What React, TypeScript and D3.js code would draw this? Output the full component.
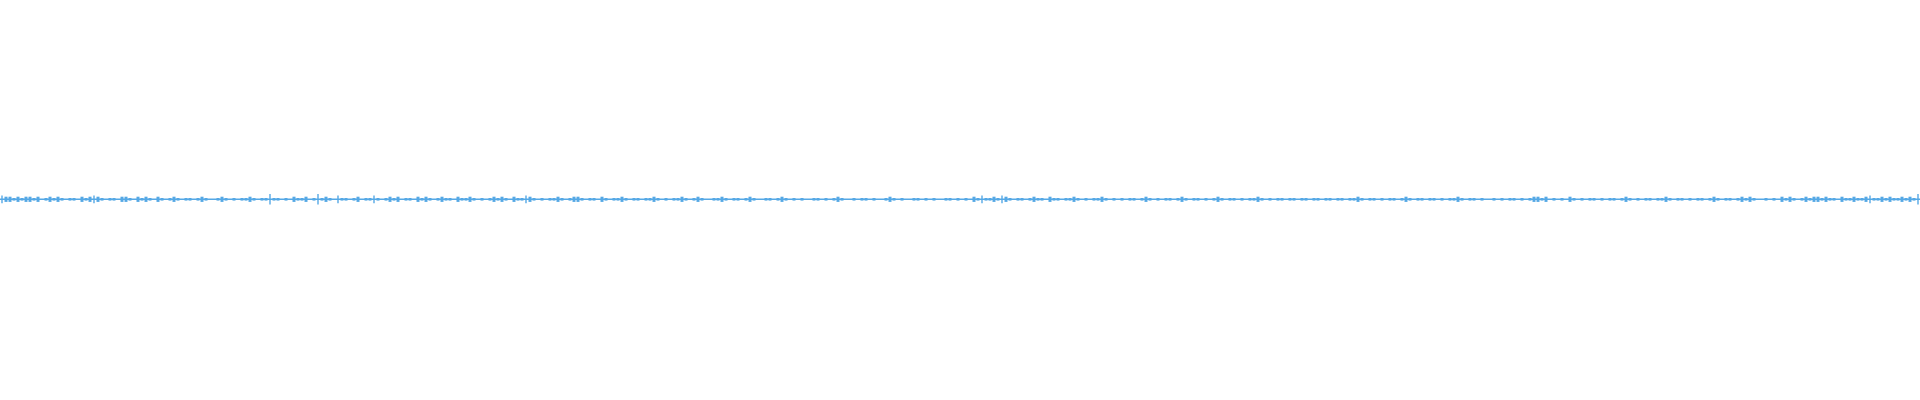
import React from "react";
import * as d3 from "d3";

// peak amplitude per 4px bin (arbitrary units, full scale = 154)
const peaks = [
  3,2,2,1,2,1,2,2,1,2,0,1,2,1,2,1,0,1,1,0,2,1,2,3,2,1,0,1,1,0,2,2,1,0,2,1,2,1,0,2,
  1,0,1,2,1,0,1,1,0,1,2,1,0,0,1,2,1,0,1,0,1,1,2,1,0,1,1,4,1,1,0,1,0,2,1,1,2,0,1,4,
  1,2,1,0,3,1,1,0,1,2,0,1,1,3,1,0,1,2,1,2,0,1,1,0,2,1,2,1,0,1,2,1,1,0,2,1,1,2,1,0,
  1,0,1,2,1,2,1,0,2,1,1,3,2,1,0,1,0,1,1,2,1,0,1,2,2,1,0,1,1,0,2,1,0,1,1,2,1,0,1,1,
  0,1,1,2,1,0,1,0,1,1,2,1,0,1,2,1,0,0,1,1,2,1,0,1,1,0,1,2,1,0,0,1,1,0,1,2,1,0,1,0,
  1,0,0,1,1,0,1,0,1,2,1,0,0,1,0,1,1,0,1,0,0,1,2,1,0,1,0,0,1,1,0,1,0,1,0,0,1,1,0,1,
  0,1,0,2,1,3,1,1,2,1,3,2,1,0,1,1,0,1,2,1,1,0,2,1,1,0,1,1,2,1,0,1,0,1,1,2,1,0,1,0,
  1,0,1,1,0,1,2,1,0,1,0,1,1,0,1,2,1,0,1,1,0,1,0,1,2,1,0,1,1,0,1,0,1,1,2,1,0,1,0,1,
  1,0,1,1,0,1,1,0,1,1,0,1,1,0,1,1,0,1,1,2,1,0,1,1,0,1,0,1,1,0,1,2,1,0,1,1,0,1,1,0,
  1,0,1,1,2,1,0,1,1,0,1,0,0,1,0,1,0,1,1,0,1,0,1,2,2,1,2,0,1,0,1,0,2,1,0,1,0,1,1,0,
  1,0,1,1,0,1,2,1,0,1,0,1,1,0,1,1,2,1,0,1,1,0,1,0,1,1,0,1,2,1,0,1,1,0,1,2,1,2,1,0,
  0,1,0,1,0,2,1,2,1,0,1,2,1,2,2,1,2,1,1,0,2,1,1,2,1,1,2,3,1,1,2,1,2,1,1,2,1,2,1,4,
];

const width = 1920;
const height = 400;
const color = "#55a8e5";

export default function App() {
  const x = d3.scaleLinear().domain([0, peaks.length]).range([0, width]);
  const y = d3.scaleLinear().domain([-154, 154]).range([height - 0.7, -0.7]);

  return (
    <svg
      width={width}
      height={height}
      style={{ position: "absolute", left: 0, top: 0, background: "#fff" }}
    >
      <line x1={0} x2={width} y1={y(0)} y2={y(0)} stroke={color} strokeWidth={1.6} />
      {peaks.map((p, i) =>
        p > 0 && p <= 2 ? (
          <rect
            key={i}
            x={x(i) + 0.5}
            width={x(1) - x(0) - 1}
            y={y(p)}
            height={y(-p) - y(p)}
            fill={color}
          />
        ) : null
      )}
      {peaks.map((p, i) =>
        p > 2 ? (
          <line
            key={"s" + i}
            x1={x(i) + 2}
            x2={x(i) + 2}
            y1={y(p)}
            y2={y(-p)}
            stroke={color}
            strokeWidth={1.4}
          />
        ) : null
      )}
    </svg>
  );
}
